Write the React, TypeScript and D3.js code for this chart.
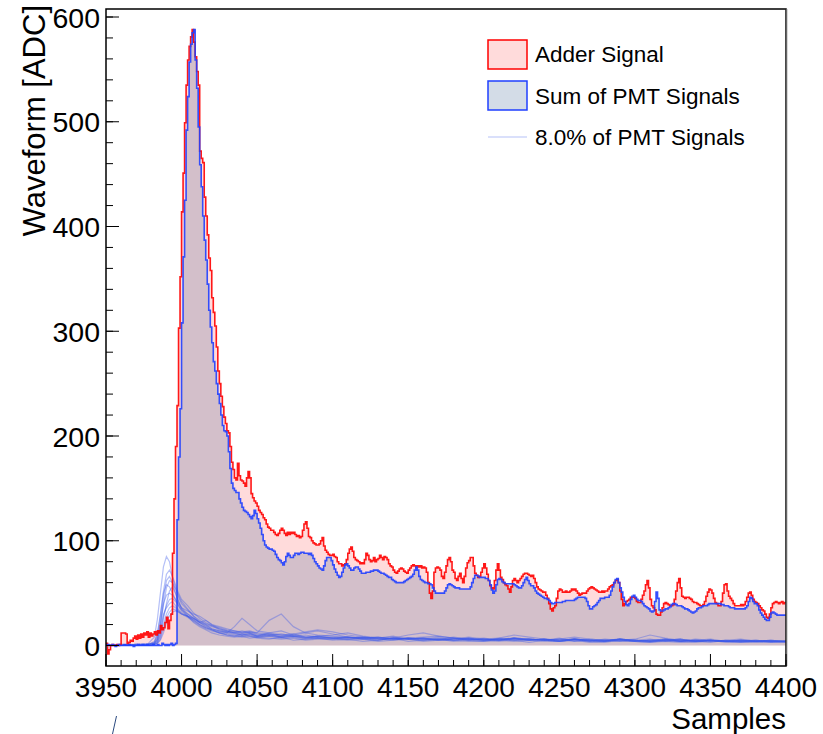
import React from 'react';
import * as d3 from 'd3';

const X_START = 3950;
const X_END = 4400;

// Adder signal, one value per sample starting at 3950
const ADDER = [
  2, -8, -4, 0, 1, 0, 0, 1, 0, 1,
  12, 12, 12, 11, 2, 3, 5, 4, 7, 9,
  6, 10, 7, 11, 8, 12, 10, 13, 8, 12,
  9, 11, 13, 10, 14, 12, 19, 15, 17, 22,
  27, 16, 24, 30, 88, 140, 190, 229, 303, 352,
  414, 451, 499, 535, 559, 572, 581, 588, 576, 562,
  548, 535, 472, 465, 461, 428, 410, 392, 370, 358,
  332, 318, 305, 285, 262, 250, 238, 228, 218, 212,
  205, 203, 190, 175, 168, 160, 158, 174, 162, 158,
  157, 155, 152, 160, 166, 160, 145, 141, 138, 136,
  133, 129, 127, 125, 122, 120, 116, 113, 112, 110,
  110, 108, 106, 105, 107, 110, 112, 110, 107, 105,
  108, 106, 108, 107, 108, 106, 104, 105, 103, 104,
  110, 116, 118, 112, 104, 103, 100, 98, 97, 96,
  96, 97, 100, 103, 95, 91, 89, 87, 86, 86,
  87, 85, 84, 80, 78, 78, 76, 77, 78, 82,
  88, 92, 94, 90, 84, 82, 81, 80, 78, 79,
  78, 82, 88, 86, 82, 80, 81, 84, 80, 82,
  83, 86, 84, 82, 85, 84, 82, 78, 76, 75,
  72, 70, 69, 71, 73, 74, 73, 71, 70, 69,
  72, 74, 76, 77, 76, 75, 76, 75, 76, 74,
  75, 74, 70, 60, 50, 45, 52, 70, 74, 75,
  74, 72, 66, 64, 70, 76, 82, 84, 80, 72,
  70, 64, 62, 66, 69, 64, 60, 66, 74, 79,
  81, 84, 84, 76, 69, 67, 65, 66, 70, 74,
  78, 74, 68, 62, 57, 55, 54, 62, 72, 78,
  72, 65, 63, 60, 58, 57, 54, 51, 56, 62,
  64, 62, 60, 62, 64, 66, 68, 69, 69, 68,
  67, 66, 67, 64, 60, 56, 54, 53, 52, 51,
  51, 48, 45, 40, 35, 33, 36, 38, 45, 52,
  54, 53, 51, 51, 52, 51, 51, 52, 54, 53,
  54, 52, 50, 48, 49, 50, 50, 50, 52, 54,
  55, 56, 55, 54, 53, 52, 51, 51, 52, 51,
  52, 52, 54, 56, 57, 58, 60, 62, 63, 60,
  52, 44, 38, 40, 42, 43, 44, 46, 46, 46,
  45, 42, 41, 41, 44, 48, 52, 58, 62, 55,
  44, 38, 36, 34, 30, 29, 29, 32, 36, 40,
  41, 40, 39, 38, 38, 39, 44, 52, 60, 64,
  55, 47, 46, 45, 46, 46, 45, 44, 42, 41,
  41, 40, 39, 38, 38, 39, 42, 47, 51, 54,
  53, 50, 45, 41, 40, 38, 38, 42, 50, 58,
  59, 52, 47, 45, 43, 40, 38, 38, 38, 38,
  39, 38, 39, 42, 46, 50, 51, 48, 44, 42,
  41, 40, 38, 36, 34, 33, 30, 27, 26, 30,
  36, 40, 41, 42, 41, 40, 41, 42, 40, 41,
];

// Sum of PMT signals, one value per sample starting at 3950
const PMT_SUM = [
  0, 1, 0, 0, 1, 0, -1, 0, 1, 0,
  0, 0, 1, 0, 0, 1, 0, 0, -1, 0,
  0, 1, 0, 0, 1, 0, 0, 1, 0, 0,
  0, 1, 0, 0, 1, 0, 0, 2, 1, 0,
  1, 0, 1, 2, 0, 1, 2, 120, 180, 226,
  308, 371, 425, 492, 524, 557, 574, 585, 588, 559,
  532, 495, 459, 438, 410, 387, 368, 345, 320, 304,
  289, 271, 262, 250, 240, 231, 220, 210, 205, 204,
  200, 185, 169, 155, 150, 148, 146, 146, 140, 136,
  132, 129, 128, 127, 125, 123, 121, 124, 129, 126,
  121, 117, 112, 106, 100, 96, 94, 93, 92, 92,
  91, 90, 87, 84, 82, 81, 79, 77, 80, 85,
  88, 86, 84, 84, 86, 88, 88, 87, 88, 89,
  89, 88, 88, 88, 87, 88, 86, 83, 80, 78,
  76, 74, 73, 72, 76, 81, 84, 84, 84, 81,
  77, 73, 70, 67, 65, 66, 70, 74, 77, 78,
  76, 74, 72, 72, 74, 75, 75, 73, 71, 69,
  69, 69, 70, 70, 70, 71, 71, 72, 72, 72,
  71, 70, 69, 69, 68, 67, 66, 65, 65, 63,
  62, 61, 60, 60, 60, 60, 60, 61, 62, 63,
  64, 65, 66, 68, 72, 75, 72, 66, 63, 62,
  61, 60, 60, 59, 59, 58, 55, 52, 50, 50,
  50, 50, 50, 50, 52, 55, 58, 59, 58, 57,
  56, 55, 55, 55, 54, 54, 54, 54, 54, 54,
  54, 56, 60, 64, 67, 67, 66, 65, 65, 65,
  65, 64, 64, 62, 58, 53, 50, 52, 58, 63,
  64, 63, 61, 60, 59, 59, 59, 59, 59, 59,
  58, 57, 56, 55, 55, 57, 60, 63, 65, 62,
  59, 57, 57, 55, 52, 50, 49, 48, 47, 46,
  45, 45, 44, 43, 41, 40, 40, 41, 41, 41,
  41, 41, 42, 42, 43, 43, 43, 43, 43, 43,
  44, 45, 46, 46, 46, 46, 46, 45, 42, 38,
  35, 35, 37, 38, 39, 41, 43, 45, 45, 45,
  46, 46, 46, 48, 52, 56, 60, 63, 64, 60,
  55, 51, 46, 42, 39, 38, 40, 44, 47, 48,
  46, 44, 43, 43, 42, 40, 38, 37, 36, 35,
  33, 32, 33, 42, 51, 45, 34, 33, 33, 34,
  35, 35, 36, 37, 39, 40, 40, 39, 38, 38,
  38, 37, 36, 35, 35, 34, 33, 32, 31, 32,
  33, 35, 36, 36, 37, 38, 38, 38, 39, 40,
  40, 40, 40, 40, 40, 40, 40, 39, 39, 38,
  38, 38, 37, 36, 36, 36, 35, 35, 35, 35,
  35, 35, 35, 36, 38, 42, 46, 45, 42, 40,
  40, 38, 34, 31, 29, 27, 25, 24, 24, 27,
  31, 32, 31, 30, 29, 29, 29, 29, 29, 29,
];

// Sample positions at which the individual PMT signals were read
const PMT_T = [
  3950, 3960, 3970, 3978, 3982, 3984, 3986, 3988, 3990, 3992,
  3994, 3996, 3998, 4000, 4004, 4008, 4012, 4016, 4020, 4025,
  4030, 4035, 4040, 4045, 4050, 4058, 4066, 4074, 4082, 4090,
  4100, 4110, 4120, 4130, 4140, 4150, 4160, 4170, 4180, 4190,
  4200, 4210, 4220, 4230, 4240, 4250, 4260, 4270, 4280, 4290,
  4300, 4310, 4320, 4330, 4340, 4350, 4360, 4370, 4380, 4390,
  4400,
];

const PMT_1 = [0,0,1,2,8,25,50,75,85,80, 65,55,48,42,35,28,22,18,15,12, 10,9,8,9,7,6,8,5,6,7, 5,6,4,5,7,4,5,6,4,5, 4,6,5,3,5,4,6,4,3,5, 4,3,5,4,3,5,4,3,4,3, 4];
const PMT_2 = [0,1,0,1,4,12,30,52,68,72, 66,58,50,44,38,31,26,22,19,15, 13,12,14,12,10,11,8,9,7,8, 7,6,8,6,5,7,6,5,6,7, 5,6,7,5,6,4,6,5,4,6, 5,4,5,6,4,5,4,5,4,4, 4];
const PMT_3 = [1,0,0,1,2,6,18,38,55,62, 60,54,46,40,34,28,24,20,16,14, 12,18,26,20,14,12,10,11,8,9, 7,8,6,7,9,6,7,5,6,8, 6,5,7,6,5,6,8,6,5,6, 4,5,6,4,5,6,4,5,5,4, 4];
const PMT_4 = [0,0,1,0,1,3,10,25,40,52, 56,50,42,36,30,26,22,24,20,16, 14,12,10,11,9,12,14,10,8,7, 6,8,6,5,7,6,5,6,5,7, 5,4,6,5,6,4,5,4,6,5, 4,5,4,5,4,3,5,4,4,3, 4];
const PMT_5 = [0,1,0,1,3,8,22,40,48,50, 48,44,40,36,33,30,28,24,20,18, 16,14,12,13,12,24,30,18,12,10, 9,8,7,8,6,7,6,8,5,6, 6,5,7,6,5,5,6,5,4,6, 5,4,5,4,6,5,4,4,5,4, 4];
const PMT_6 = [0,0,0,1,2,4,12,28,38,44, 45,42,38,34,30,26,22,19,16,14, 13,12,11,12,9,10,8,9,7,9, 10,12,9,7,6,7,5,6,5,6, 5,7,5,6,5,4,6,4,5,4, 5,6,4,5,4,5,4,3,4,5, 4];
const PMT_7 = [1,0,1,0,2,5,15,30,36,40, 42,38,34,31,28,24,20,17,15,12, 11,10,9,10,8,9,8,10,12,14, 11,8,7,8,6,7,6,5,7,5, 6,5,7,6,5,6,4,6,5,5, 6,10,7,5,5,4,5,6,4,5, 4];
const PMT_8 = [0,0,0,1,1,3,8,20,30,36, 38,36,33,30,27,23,19,16,14,12, 10,9,11,9,8,9,7,8,6,7, 7,6,7,5,7,10,12,9,7,6, 5,6,5,6,5,7,4,5,5,4, 5,4,6,4,5,4,4,5,4,4, 3];
const PMT_9 = [0,0,1,0,1,2,6,16,26,32, 35,34,32,30,28,26,23,21,19,17, 15,14,13,14,12,11,10,9,10,8, 8,7,8,7,6,7,8,9,7,6, 7,5,6,5,6,5,6,5,5,6, 4,5,6,4,5,4,5,4,4,5, 4];
const PMT_10 = [0,1,0,1,2,6,20,45,62,66, 60,50,42,35,28,22,18,15,12,10, 9,8,9,7,8,7,6,7,5,6, 6,5,6,4,5,6,4,5,5,4, 4,5,4,5,4,4,5,3,4,5, 4,3,4,3,4,5,3,4,3,4, 3];
const PMT_11 = [0,0,0,0,1,2,5,12,22,28, 32,33,32,30,28,25,22,20,18,16, 14,13,12,13,11,10,11,9,8,9, 7,8,7,6,7,6,7,6,8,6, 5,6,7,5,6,5,6,5,4,6, 5,4,5,6,4,5,4,4,5,4, 4];
const PMT_12 = [0,0,1,1,3,10,28,50,58,56, 50,44,38,33,28,24,20,17,15,13, 12,11,10,11,9,10,9,11,13,15, 13,10,8,7,8,6,7,6,7,5, 6,7,10,8,6,5,6,5,4,6, 5,4,5,6,4,5,4,5,4,4, 4];

const PMT_LINES = [PMT_1, PMT_2, PMT_3, PMT_4, PMT_5, PMT_6, PMT_7, PMT_8, PMT_9, PMT_10, PMT_11, PMT_12];

const X_TICKS = [3950, 4000, 4050, 4100, 4150, 4200, 4250, 4300, 4350, 4400];
const Y_TICKS = [0, 100, 200, 300, 400, 500, 600];
const LEGEND = ['Adder Signal', 'Sum of PMT Signals', '8.0% of PMT Signals'];

const FONT = "'Liberation Sans', Arial, Helvetica, sans-serif";
const RED = '#ff0000';
const BLUE = '#1f3fff';
const RED_FILL = 'rgba(255,0,0,0.14)';
const BLUE_FILL = 'rgba(35,80,135,0.2)';
const PMT_COLOR = 'rgba(60,90,235,0.38)';
const PMT_LEGEND = 'rgba(60,90,235,0.25)';

export default function App() {
  const W = 823, H = 734;
  const L = 106, R = 786, T = 9, B = 666;
  const x = d3.scaleLinear().domain([X_START, X_END]).range([L, R]);
  const y = d3.scaleLinear().domain([0, 600]).range([645.5, 17]);

  const toPts = (arr: number[]) => {
    const p: [number, number][] = arr.map((v, i) => [X_START + i, v]);
    p.push([X_START + arr.length, arr[arr.length - 1]]);
    return p;
  };
  const stepLine = d3.line<[number, number]>().x(d => x(d[0])).y(d => y(d[1])).curve(d3.curveStepAfter);
  const stepArea = d3.area<[number, number]>().x(d => x(d[0])).y0(y(0)).y1(d => y(d[1])).curve(d3.curveStepAfter);
  const pmtLine = d3.line<number>().x((d, i) => x(PMT_T[i])).y(d => y(d));

  const adderPts = toPts(ADDER);
  const sumPts = toPts(PMT_SUM);

  const xMinor = d3.range(X_START, X_END + 1, 10);
  const yMinor = d3.range(0, 601, 20);

  return (
    <svg width={W} height={H} style={{ position: 'absolute', left: 0, top: 0, background: '#fff' }}>
      <defs>
        <clipPath id="plot">
          <rect x={L} y={T} width={R - L} height={B - T} />
        </clipPath>
      </defs>
      <rect x={0} y={0} width={W} height={H} fill="#fff" />
      <g clipPath="url(#plot)">
        <path d={stepArea(adderPts) || ''} fill={RED_FILL} />
        <path d={stepArea(sumPts) || ''} fill={BLUE_FILL} />
        {PMT_LINES.map((ln, i) => (
          <path key={i} d={pmtLine(ln) || ''} fill="none" stroke={PMT_COLOR} strokeWidth={1.2} />
        ))}
        <path d={stepLine(adderPts) || ''} fill="none" stroke={RED} strokeWidth={1.6} strokeOpacity={0.9} />
        <path d={stepLine(sumPts) || ''} fill="none" stroke={BLUE} strokeWidth={1.6} strokeOpacity={0.9} />
      </g>
      {/* frame */}
      <rect x={L} y={T} width={R - L} height={B - T} fill="none" stroke="#000" strokeWidth={1.5} />
      <line x1={R + 0.5} y1={T} x2={R + 0.5} y2={B} stroke="#666" strokeWidth={1.5} />
      {/* x ticks */}
      {xMinor.map(v => (
        <line key={'xm' + v} x1={x(v)} x2={x(v)} y1={B} y2={B - 6} stroke="#000" strokeWidth={1} />
      ))}
      {X_TICKS.map(v => (
        <g key={'xt' + v}>
          <line x1={x(v)} x2={x(v)} y1={B} y2={B - 12} stroke="#000" strokeWidth={1} />
          <text x={x(v)} y={697} textAnchor="middle" fontFamily={FONT} fontSize={28} fill="#000">{v}</text>
        </g>
      ))}
      {/* y ticks */}
      {yMinor.map(v => (
        <line key={'ym' + v} x1={L} x2={L + 7} y1={y(v)} y2={y(v)} stroke="#000" strokeWidth={1} />
      ))}
      {Y_TICKS.map(v => (
        <g key={'yt' + v}>
          <line x1={L} x2={L + 13} y1={y(v)} y2={y(v)} stroke="#000" strokeWidth={1} />
          <text x={100} y={y(v) + 10.5} textAnchor="end" fontFamily={FONT} fontSize={28.5} fill="#000">{v}</text>
        </g>
      ))}
      {/* axis titles */}
      <text x={R} y={729} textAnchor="end" fontFamily={FONT} fontSize={29.5} fill="#000">Samples</text>
      <text transform="translate(45,5) rotate(-90)" textAnchor="end" fontFamily={FONT} fontSize={31} fill="#000">Waveform [ADC]</text>
      {/* legend */}
      <rect x={488} y={40} width={39} height={29} fill={RED_FILL} stroke={RED} strokeWidth={1.5} />
      <rect x={488} y={81} width={39} height={29} fill={BLUE_FILL} stroke={BLUE} strokeWidth={1.5} />
      <line x1={488} x2={527} y1={137} y2={137} stroke={PMT_LEGEND} strokeWidth={1.5} />
      {LEGEND.map((t, i) => (
        <text key={t} x={535} y={[62, 104, 145][i]} fontFamily={FONT} fontSize={22.5} fill="#000">{t}</text>
      ))}
      {/* small stray mark below the axis */}
      <line x1={116.5} y1={716} x2={112.5} y2={734} stroke="#2b4a80" strokeWidth={1} />
    </svg>
  );
}
